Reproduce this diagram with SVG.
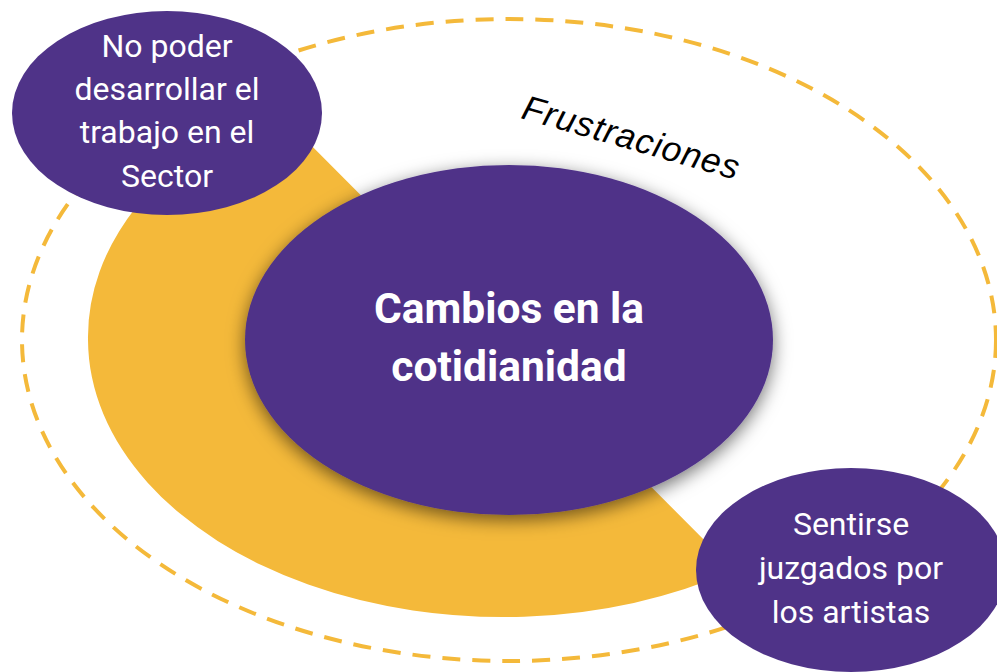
<svg xmlns="http://www.w3.org/2000/svg" width="997" height="672" viewBox="0 0 997 672">
<defs>
<style>
.purple{fill:#4F3388;}
.lbl{font-family:Roboto,"Liberation Sans",sans-serif;fill:#FFFFFF;text-anchor:middle;}
.small{font-size:32px;}
.big{font-size:42.5px;font-weight:bold;}
</style>
<filter id="shadow" x="-20%" y="-20%" width="140%" height="150%">
<feDropShadow dx="0" dy="5" stdDeviation="9" flood-color="#000000" flood-opacity="0.55"/>
</filter>
</defs>
<rect width="997" height="672" fill="#FFFFFF"/>
<g id="frame">
<ellipse cx="509" cy="340" rx="487" ry="321" fill="none" stroke="#F4B93A" stroke-width="4" stroke-dasharray="18 12"/>
</g>
<g id="band">
<path d="M 272 106 A 415 278 0 0 0 88 340 A 415 278 0 0 0 734 570 Z" fill="#F4B93A"/>
</g>
<g id="label-frustraciones">
<text x="0" y="0" transform="translate(520,118) rotate(16)" font-family="'Liberation Sans',Arial,sans-serif" font-style="italic" font-size="35" fill="#000000" letter-spacing="1">Frustraciones</text>
</g>
<g id="center">
<ellipse class="purple" cx="509" cy="340" rx="264" ry="175" filter="url(#shadow)"/>
<text class="lbl big" x="509" y="323">Cambios en la</text>
<text class="lbl big" x="509" y="381">cotidianidad</text>
</g>
<g id="node-top-left">
<ellipse class="purple" cx="167" cy="113" rx="155" ry="102"/>
<text class="lbl small" x="167" y="57">No poder</text>
<text class="lbl small" x="167" y="100">desarrollar el</text>
<text class="lbl small" x="167" y="143">trabajo en el</text>
<text class="lbl small" x="167" y="187">Sector</text>
</g>
<g id="node-bottom-right">
<ellipse class="purple" cx="851" cy="570" rx="155" ry="102"/>
<text class="lbl small" x="851" y="535">Sentirse</text>
<text class="lbl small" x="851" y="579">juzgados por</text>
<text class="lbl small" x="851" y="623">los artistas</text>
</g>
<g id="connectors"></g>
</svg>
